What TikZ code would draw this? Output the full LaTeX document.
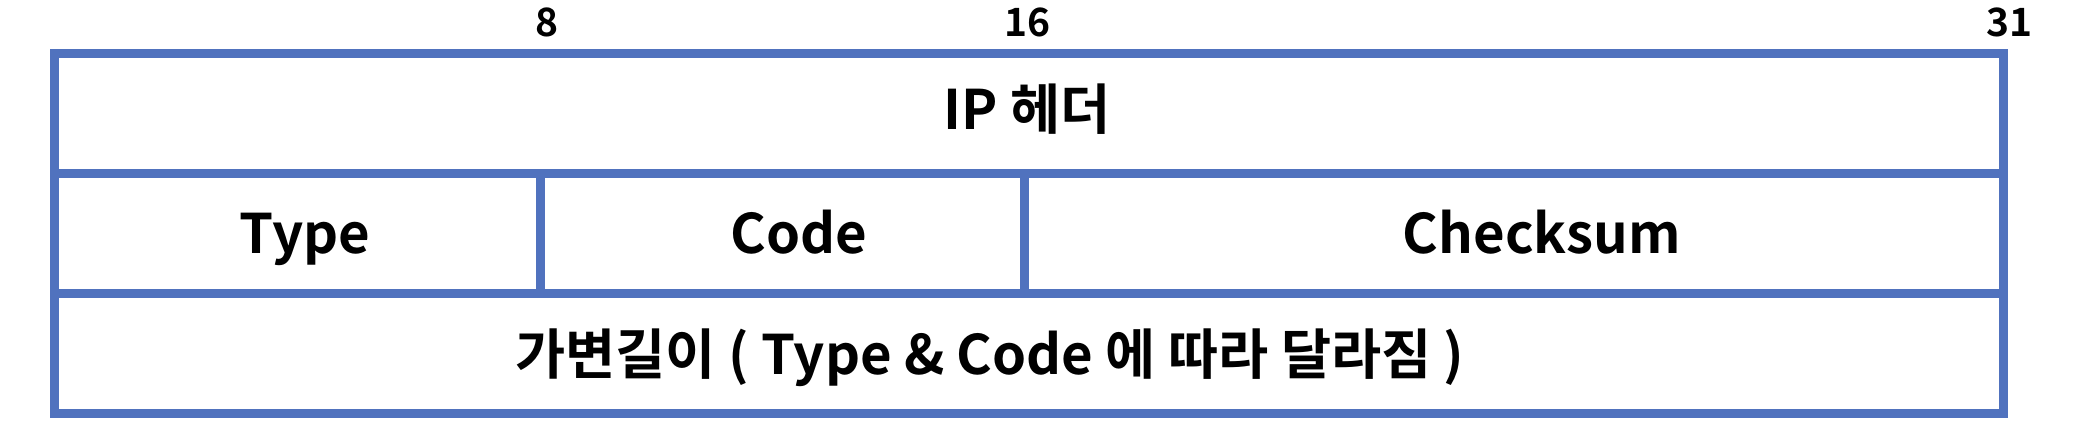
\documentclass[tikz,border=0pt]{standalone}
\usepackage{fontspec}
\setmainfont{Noto Sans CJK KR}[BoldFont={Noto Sans CJK KR Bold}]
\definecolor{gridblue}{RGB}{80,114,190}
\begin{document}
\begin{tikzpicture}[x=1pt,y=-1pt,
  gridline/.style={draw=gridblue,line width=9pt,line join=miter},
  celltext/.style={anchor=base,inner sep=0pt,font=\fontsize{54.5}{58}\selectfont\bfseries},
  bitnum/.style={anchor=base,inner sep=0pt,font=\fontsize{39}{40}\selectfont\bfseries}]
\useasboundingbox (0,0) rectangle (2084,438);
\coordinate (tl) at (54.5,53.5);
\coordinate (br) at (2003.5,413.5);
\coordinate (r1l) at (54.5,173.5);
\coordinate (r1r) at (2003.5,173.5);
\coordinate (r2l) at (54.5,293.5);
\coordinate (r2r) at (2003.5,293.5);
\coordinate (d1t) at (540.5,173.5);
\coordinate (d1b) at (540.5,293.5);
\coordinate (d2t) at (1024,173.5);
\coordinate (d2b) at (1024,293.5);
\draw[gridline] (tl) rectangle (br);
\draw[gridline] (r1l) -- (r1r);
\draw[gridline] (r2l) -- (r2r);
\draw[gridline] (d1t) -- (d1b);
\draw[gridline] (d2t) -- (d2b);
\node[bitnum] (n8) at (547,37) {8};
\node[bitnum] (n16) at (1027,37) {16};
\node[bitnum] (n31) at (2009,37) {31};
\node[celltext] (ip) at (1027,130) {IP 헤더};
\node[celltext] (type) at (305,254) {Type};
\node[celltext] (code) at (799,254) {Code};
\node[celltext] (cks) at (1542,254) {Checksum};
\node[celltext] (var) at (990,374) {가변길이 ( Type \& Code 에 따라 달라짐 )};
\end{tikzpicture}
\end{document}
